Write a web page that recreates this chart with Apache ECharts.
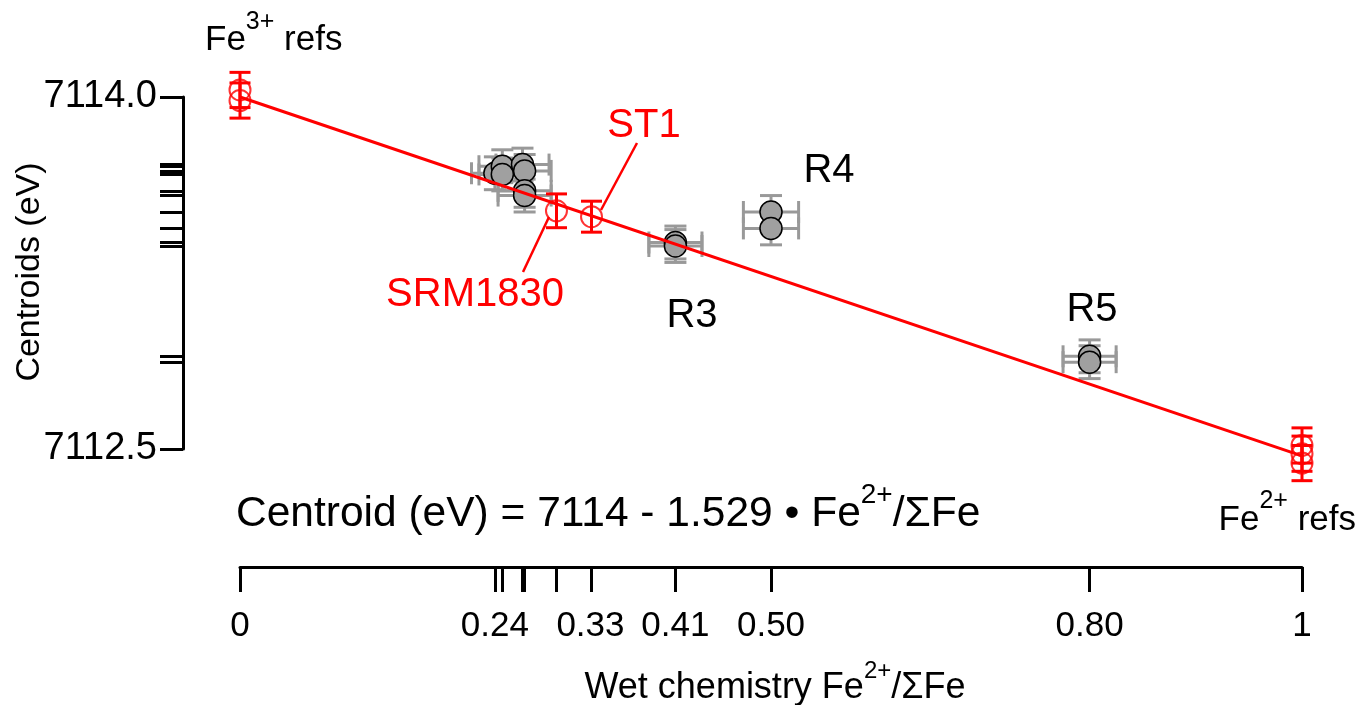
<!DOCTYPE html>
<html>
<head>
<meta charset="utf-8">
<script src="https://cdn.jsdelivr.net/npm/echarts@6/dist/echarts.min.js"></script>
<style>
  html, body { margin: 0; padding: 0; background: #fff; }
  #chart { width: 1357px; height: 705px; }
</style>
</head>
<body>
<div id="chart"></div>
<script>
// Glass samples (grey): wet-chemistry Fe2+/ΣFe vs. pre-edge centroid (eV)
const sampleX    = [0.240, 0.247, 0.247, 0.266, 0.268, 0.268, 0.268, 0.41, 0.41, 0.50, 0.50, 0.80, 0.80];
const sampleY    = [7113.675, 7113.705, 7113.670, 7113.712, 7113.685, 7113.600, 7113.580,
                    7113.380, 7113.365, 7113.510, 7113.440, 7112.895, 7112.870];
const sampleXErr = [0.022, 0.022, 0.022, 0.025, 0.025, 0.025, 0.025, 0.025, 0.025, 0.026, 0.026, 0.025, 0.025];
const sampleYErr = [0.07, 0.07, 0.07, 0.07, 0.07, 0.07, 0.07, 0.07, 0.07, 0.07, 0.07, 0.07, 0.07];

// Reference materials (red): Fe3+ refs, SRM1830, ST1, Fe2+ refs
const refX    = [0, 0, 0.298, 0.331, 1, 1, 1];
const refY    = [7114.03, 7113.985, 7113.515, 7113.49, 7112.515, 7112.48, 7112.44];
const refYErr = [0.075, 0.075, 0.072, 0.066, 0.075, 0.075, 0.075];

// Linear calibration
const fitIntercept = 7114;
const fitSlope = -1.529;

// Labelled ticks
const xTickLabels = [0, 0.24, 0.33, 0.41, 0.50, 0.80, 1];
const yTickLabels = [7112.5, 7114.0];

const FONT = '"Liberation Sans", Arial, sans-serif';
const RED = '#ff0000';
const GREY = '#999999';

// every measured composition / centroid gets a rug tick on its axis
const xTicks = Array.from(new Set(sampleX.concat(refX))).sort((a, b) => a - b);
const yTicks = yTickLabels.concat(sampleY);

const measureCtx = document.createElement('canvas').getContext('2d');
function textWidth(t, size) {
  measureCtx.font = size + 'px ' + FONT;
  return measureCtx.measureText(t).width;
}
// text made of runs [text, size, dy] laid out left to right (for superscripts)
function runs(parts, x, y, color, anchor) {
  const total = parts.reduce((s, p) => s + textWidth(p[0], p[1]), 0);
  let cx = anchor === 'center' ? x - total / 2 : anchor === 'right' ? x - total : x;
  return parts.map(p => {
    const el = {
      type: 'text', x: cx, y: y + p[2], z: 50,
      style: { text: p[0], font: p[1] + 'px ' + FONT, fill: color,
               align: 'left', verticalAlign: 'middle', textAlign: 'left', textVerticalAlign: 'middle' }
    };
    cx += textWidth(p[0], p[1]);
    return el;
  });
}
function label(text, x, y, color, size) {
  return {
    type: 'text', x: x, y: y, z: 50,
    style: { text: text, font: size + 'px ' + FONT, fill: color,
             align: 'center', verticalAlign: 'middle', textAlign: 'center', textVerticalAlign: 'middle' }
  };
}
function leader(x1, y1, x2, y2) {
  return { type: 'line', z: 50, shape: { x1, y1, x2, y2 }, style: { stroke: RED, lineWidth: 2.5 } };
}

function errorBars(color, capHalf) {
  return function (params, api) {
    const x = api.value(0), y = api.value(1), ex = api.value(2), ey = api.value(3);
    const lo = api.coord([x, y - ey]), hi = api.coord([x, y + ey]);
    const st = { stroke: color, lineWidth: 3 };
    const ch = [
      { type: 'line', shape: { x1: lo[0], y1: lo[1], x2: hi[0], y2: hi[1] }, style: st },
      { type: 'line', shape: { x1: lo[0] - capHalf, y1: lo[1], x2: lo[0] + capHalf, y2: lo[1] }, style: st },
      { type: 'line', shape: { x1: hi[0] - capHalf, y1: hi[1], x2: hi[0] + capHalf, y2: hi[1] }, style: st }
    ];
    if (ex > 0) {
      const l = api.coord([x - ex, y]), r = api.coord([x + ex, y]);
      ch.push(
        { type: 'line', shape: { x1: l[0], y1: l[1], x2: r[0], y2: r[1] }, style: st },
        { type: 'line', shape: { x1: l[0], y1: l[1] - capHalf, x2: l[0], y2: l[1] + capHalf }, style: st },
        { type: 'line', shape: { x1: r[0], y1: r[1] - capHalf, x2: r[0], y2: r[1] + capHalf }, style: st }
      );
    }
    return { type: 'group', children: ch };
  };
}

const sampleData = sampleX.map((x, i) => [x, sampleY[i], sampleXErr[i], sampleYErr[i]]);
const refData = refX.map((x, i) => [x, refY[i], 0, refYErr[i]]);
const slopeText = Math.abs(fitSlope).toString();

const chart = echarts.init(document.getElementById('chart'), null, { renderer: 'canvas' });
chart.setOption({
  animation: false,
  backgroundColor: '#fff',
  grid: { left: 240, right: 55, top: 97, bottom: 256 },
  xAxis: {
    type: 'value', min: 0, max: 1, offset: 118,
    axisLine: { show: true, onZero: false, lineStyle: { color: '#000', width: 3 } },
    axisTick: { show: true, customValues: xTicks, length: 25, lineStyle: { color: '#000', width: 3 } },
    axisLabel: {
      customValues: xTickLabels, margin: 42, fontSize: 35, fontFamily: FONT, color: '#000',
      formatter: v => (v === 0 || v === 1) ? String(v) : v.toFixed(2)
    },
    splitLine: { show: false }
  },
  yAxis: {
    type: 'value', min: 7112.5, max: 7114.0, offset: 57,
    axisLine: { show: true, onZero: false, lineStyle: { color: '#000', width: 3 } },
    axisTick: { show: true, customValues: yTicks, length: 23, lineStyle: { color: '#000', width: 3 } },
    axisLabel: {
      customValues: yTickLabels, margin: 26, fontSize: 38, fontFamily: FONT, color: '#000',
      formatter: v => v.toFixed(1)
    },
    splitLine: { show: false }
  },
  series: [
    { type: 'custom', name: 'sample errors', data: sampleData, clip: false, z: 2,
      renderItem: errorBars(GREY, 11) },
    { type: 'scatter', name: 'samples', data: sampleData.map(d => [d[0], d[1]]), clip: false, z: 3,
      symbol: 'circle', symbolSize: 22,
      itemStyle: { color: '#a0a0a0', borderColor: '#000', borderWidth: 1.5, opacity: 1 } },
    { type: 'line', name: 'calibration', data: [[0, fitIntercept], [1, fitIntercept + fitSlope]],
      clip: false, z: 4, symbol: 'none', lineStyle: { color: RED, width: 3 } },
    { type: 'custom', name: 'reference errors', data: refData, clip: false, z: 5,
      renderItem: errorBars(RED, 10.5) },
    { type: 'scatter', name: 'references', data: refData.map(d => [d[0], d[1]]), clip: false, z: 6,
      symbol: 'circle', symbolSize: 21,
      itemStyle: { color: 'rgba(255,255,255,0)', borderColor: RED, borderWidth: 2 } }
  ],
  graphic: [].concat(
    runs([['Fe', 35, 0], ['3+', 25, -18], [' refs', 35, 0]], 205, 40, '#000', 'left'),
    runs([['Fe', 35, 0], ['2+', 25, -19], [' refs', 35, 0]], 1356, 520, '#000', 'right'),
    runs([['Centroid (eV) = ' + fitIntercept + ' - ' + slopeText + ' \u2022 Fe', 42.5, 0], ['2+', 28, -19], ['/\u03A3Fe', 42.5, 0]],
         236, 514, '#000', 'left'),
    runs([['Wet chemistry Fe', 36, 0], ['2+', 24, -17], ['/\u03A3Fe', 36, 0]], 775, 688, '#000', 'center'),
    [
      { type: 'text', x: 30, y: 272, rotation: Math.PI / 2, z: 50,
        style: { text: 'Centroids (eV)', font: '34px ' + FONT, fill: '#000',
                 align: 'center', verticalAlign: 'middle', textAlign: 'center', textVerticalAlign: 'middle' } },
      label('ST1', 644, 126, RED, 40),
      label('SRM1830', 475, 295, RED, 40),
      label('R3', 692, 316, '#000', 40),
      label('R4', 829, 171, '#000', 40),
      label('R5', 1092, 310, '#000', 40),
      leader(637, 143, 601, 210),
      leader(549, 217, 523, 272)
    ]
  )
});
</script>
</body>
</html>
